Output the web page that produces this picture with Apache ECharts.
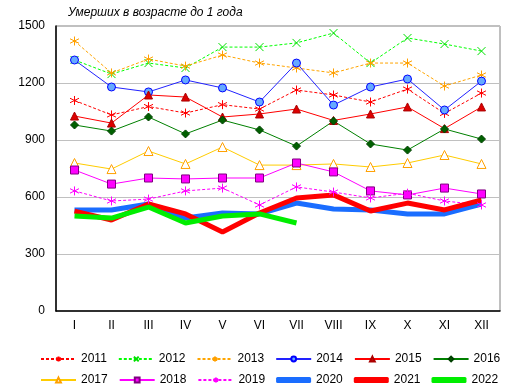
<!DOCTYPE html>
<html><head><meta charset="utf-8">
<script src="https://cdn.jsdelivr.net/npm/echarts@6/dist/echarts.min.js"></script>
<style>html,body{margin:0;padding:0;background:#fff}#c{width:514px;height:392px}</style>
</head><body><div id="c"></div>
<script>
const months = ['I','II','III','IV','V','VI','VII','VIII','IX','X','XI','XII'];
const yTicks = [0, 300, 600, 900, 1200, 1500];
const names = ['2011','2012','2013','2014','2015','2016','2017','2018','2019','2020','2021','2022'];
const v2011 = [1108, 1032, 1076, 1042, 1086, 1063, 1163, 1137, 1100, 1168, 1040, 1147];
const v2012 = [1321, 1247, 1305, 1279, 1389, 1389, 1411, 1463, 1305, 1437, 1405, 1368];
const v2013 = [1421, 1253, 1326, 1289, 1347, 1305, 1279, 1253, 1305, 1305, 1184, 1242];
const v2014 = [1321, 1179, 1153, 1216, 1174, 1100, 1305, 1084, 1179, 1221, 1058, 1210];
const v2015 = [1026, 989, 1137, 1126, 1021, 1037, 1063, 1003, 1037, 1074, 960, 1074];
const v2016 = [979, 947, 1021, 932, 1005, 953, 868, 1000, 879, 847, 958, 905];
const v2017 = [779, 747, 842, 774, 863, 768, 768, 774, 758, 779, 821, 774];
const v2018 = [742, 668, 700, 695, 700, 700, 779, 732, 632, 611, 647, 616];
const v2019 = [632, 579, 589, 632, 647, 558, 653, 626, 595, 620, 579, 558];
const v2020 = [532, 532, 563, 489, 516, 511, 568, 537, 532, 511, 511, 563];
const v2021 = [526, 479, 563, 511, 416, 516, 595, 611, 526, 568, 532, 584];
const v2022 = [500, 489, 547, 463, 500, 511, 463];

const star = 'path://M5,0L5,10M0.7,2.5L9.3,7.5M9.3,2.5L0.7,7.5';
const cross = 'path://M0,0L10,10M10,0L0,10';

function thin(name, data, color, dashed, symbol, fill, border, size) {
  return {
    name, type: 'line', data, symbol, symbolSize: size,
    lineStyle: {color, width: 1, type: dashed ? [3, 2] : 'solid'},
    itemStyle: {color: fill, borderColor: border, borderWidth: 1},
    emphasis: {disabled: true}, animation: false
  };
}
function thick(name, data, color) {
  return {
    name, type: 'line', data, symbol: 'none',
    lineStyle: {color, width: 5}, itemStyle: {color},
    emphasis: {disabled: true}, animation: false
  };
}
const series = [
  thin('2011', v2011, '#ff0000', true, star, 'rgba(0,0,0,0)', '#ff0000', 9),
  thin('2012', v2012, '#00ff00', true, cross, 'rgba(0,0,0,0)', '#00e000', 8),
  thin('2013', v2013, '#ffa500', true, star, 'rgba(0,0,0,0)', '#ffa000', 9),
  thin('2014', v2014, '#2222ff', false, 'circle', '#66aaff', '#0000ff', 8),
  thin('2015', v2015, '#ff0000', false, 'triangle', '#dd0000', '#aa0000', 8),
  thin('2016', v2016, '#008000', false, 'diamond', '#006000', '#004000', 8),
  thin('2017', v2017, '#ffcc00', false, 'triangle', '#ffffff', '#ffa000', 9),
  thin('2018', v2018, '#ff00ff', false, 'rect', '#ff00ff', '#800080', 8),
  thin('2019', v2019, '#ff00ff', true, star, 'rgba(0,0,0,0)', '#ff00ff', 9),
  thick('2020', v2020, '#1a6dff'),
  thick('2021', v2021, '#ff0000'),
  thick('2022', v2022, '#00ee00')
];
const font = 'Liberation Sans, Arial, sans-serif';
const legendCommon = {
  itemWidth: 35, itemHeight: 6, itemGap: 11, width: 500, orient: 'horizontal',
  textStyle: {fontFamily: font, fontSize: 12, color: '#000', padding: [0, 0, 0, 0]},
  selectedMode: false, padding: 0
};
const legendItem = n => (['2020','2021','2022'].includes(n) ? {name: n, icon: 'roundRect'} : {name: n});
const chart = echarts.init(document.getElementById('c'), null, {renderer: 'canvas'});
chart.setOption({
  backgroundColor: '#fff',
  animation: false,
  title: {
    text: 'Умерших в возрасте до 1 года', left: 68, top: 7, padding: 0,
    textStyle: {fontFamily: font, fontSize: 12, fontStyle: 'italic', fontWeight: 'normal', color: '#000'}
  },
  grid: {left: 56, right: 14, top: 26, bottom: 81, show: true, borderColor: '#808080', borderWidth: 1},
  legend: [
    Object.assign({data: names.slice(0, 6).map(legendItem), left: 40, top: 353}, legendCommon),
    Object.assign({data: names.slice(6).map(legendItem), left: 40, top: 374}, legendCommon)
  ],
  xAxis: {
    type: 'category', data: months, boundaryGap: true,
    axisLine: {lineStyle: {color: '#000', width: 1.5}},
    axisTick: {show: false},
    axisLabel: {fontFamily: font, fontSize: 12, color: '#000', margin: 9}
  },
  yAxis: {
    type: 'value', min: yTicks[0], max: yTicks[yTicks.length - 1], interval: 300,
    axisLine: {show: true, lineStyle: {color: '#000', width: 1.5}},
    axisTick: {show: false},
    splitLine: {lineStyle: {color: '#c0c0c0', width: 1}},
    axisLabel: {fontFamily: font, fontSize: 12, color: '#000', margin: 11, formatter: v => String(v)}
  },
  series
});
</script></body></html>
